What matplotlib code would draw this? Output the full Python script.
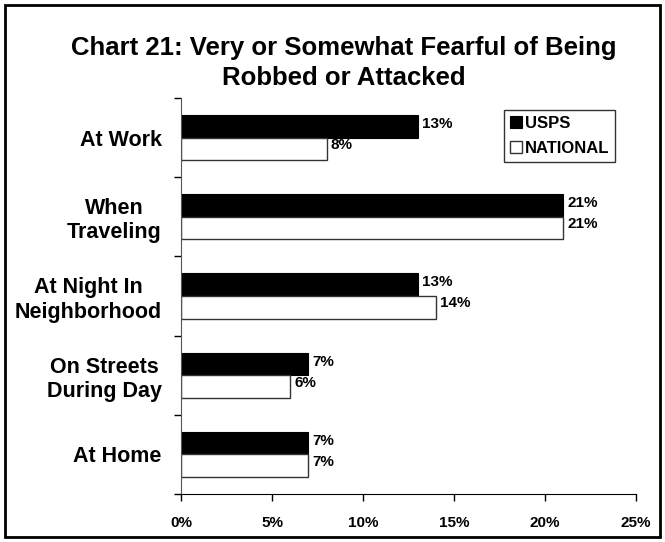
import matplotlib
matplotlib.use('Agg')
import matplotlib.pyplot as plt
from matplotlib.patches import Rectangle
import numpy as np

# Survey results, percent fearful of being robbed or attacked
categories = ["At Work", "When\nTraveling", "At Night In\nNeighborhood",
              "On Streets\nDuring Day", "At Home"]
usps = [13, 21, 13, 7, 7]
national = [8, 21, 14, 6, 7]
xticks = [0, 5, 10, 15, 20, 25]

plt.rcParams['font.family'] = ['Liberation Sans', 'DejaVu Sans']
plt.rcParams['font.weight'] = 'bold'

fig = plt.figure(figsize=(6.65, 5.42), dpi=100)
ax = fig.add_axes([181 / 665, 1 - 494 / 542, 455 / 665, 396 / 542])

pos = np.arange(len(categories))
h = 0.285
ax.barh(pos - h / 2, usps, height=h, color='black', edgecolor='black', linewidth=0.8, label='USPS')
ax.barh(pos + h / 2, national, height=h, color='white', edgecolor='#333333', linewidth=1.0, label='NATIONAL')

for p, v in zip(pos, usps):
    ax.text(v + 0.22, p - h / 2 - 0.03, "%d%%" % v, va='center', ha='left', fontsize=11, fontweight='bold')
for p, v in zip(pos, national):
    ax.text(v + 0.22, p + h / 2 - 0.05, "%d%%" % v, va='center', ha='left', fontsize=11, fontweight='bold')

ax.set_xlim(0, 25)
ax.set_ylim(len(categories) - 0.5, -0.5)
ax.set_xticks(xticks)
ax.set_xticklabels(["%d%%" % t for t in xticks], fontsize=11, fontweight='bold')
ax.set_yticks(np.arange(-0.5, len(categories), 1.0))
ax.set_yticklabels([])
ax.set_yticks(pos, minor=True)
ax.set_yticklabels(categories, minor=True, fontsize=15.5, fontweight='bold',
                   multialignment='center')
ax.tick_params(axis='y', which='minor', length=0, pad=14)
ax.tick_params(axis='y', which='major', length=5, direction='out', width=1)
ax.tick_params(axis='x', length=5, direction='out', width=1, pad=11)
for side in ('top', 'right'):
    ax.spines[side].set_visible(False)
ax.spines['left'].set_color('#555555')
ax.spines['bottom'].set_color('black')

leg = ax.legend(loc='upper left', bbox_to_anchor=(323 / 455, 1 - 12 / 396), frameon=True,
                fancybox=False, edgecolor='black', fontsize=12, handlelength=0.7,
                handleheight=0.7, handletextpad=0.2, borderpad=0.35, labelspacing=0.6,
                borderaxespad=0)
leg.get_frame().set_linewidth(1.0)
for t in leg.get_texts():
    t.set_fontweight('bold')

fig.text(344 / 665, 1 - 36 / 542, "Chart 21: Very or Somewhat Fearful of Being\nRobbed or Attacked",
         ha='center', va='top', fontsize=18.5, fontweight='bold', linespacing=1.3)

fig.patches.append(Rectangle((5 / 665, 5 / 542), 655 / 665, 532 / 542, transform=fig.transFigure,
                             fill=False, edgecolor='black', linewidth=2))

fig.savefig("out.png", dpi=100)
